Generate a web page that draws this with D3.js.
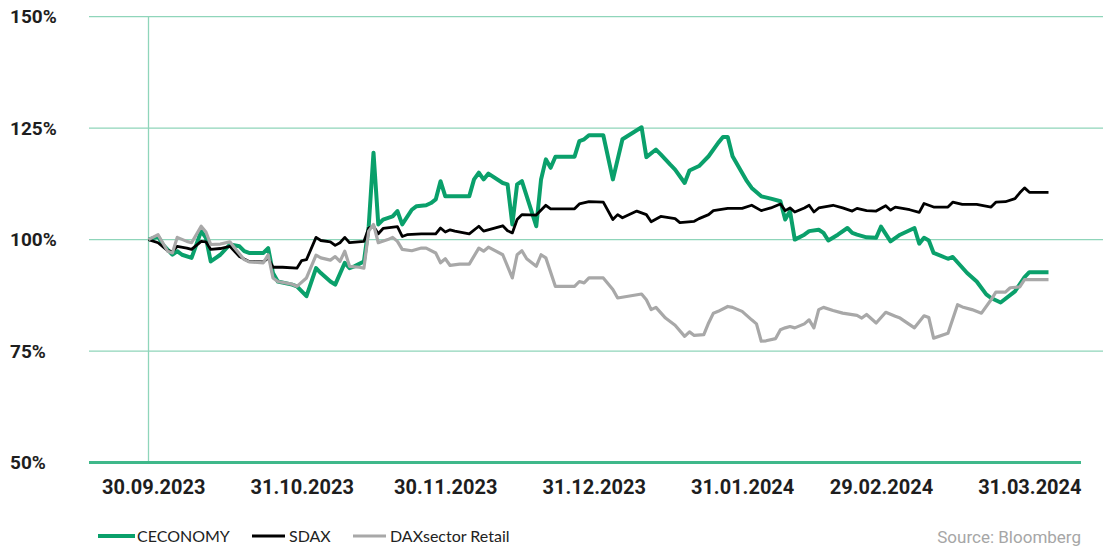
<!DOCTYPE html>
<html>
<head>
<meta charset="utf-8">
<script src="https://cdn.jsdelivr.net/npm/d3@7"></script>
<style>
  body { margin: 0; background: #fff; }
  svg { display: block; }
</style>
</head>
<body>
<svg id="chart" width="1105" height="547"></svg>
<script>
// data (index = 100 at 29.09.2023)

var seriesNames = ["CECONOMY", "SDAX", "DAXsector Retail"];
var tickDates = ["2023-09-30", "2023-10-31", "2023-11-30", "2023-12-31", "2024-01-31", "2024-02-29", "2024-03-31"];
var yTicks = [50, 75, 100, 125, 150];

var ceconomy = [
  ["2023-09-29",100.0],["2023-10-01",100.7],["2023-10-02",98.9],["2023-10-04",96.6],["2023-10-05",97.4],
  ["2023-10-06",96.6],["2023-10-08",95.9],["2023-10-10",101.9],["2023-10-11",100.4],["2023-10-12",95.1],
  ["2023-10-14",96.6],["2023-10-16",98.9],["2023-10-18",98.5],["2023-10-19",97.4],["2023-10-20",97.0],
  ["2023-10-23",97.0],["2023-10-24",98.1],["2023-10-25",92.5],["2023-10-26",90.6],["2023-10-29",89.9],
  ["2023-10-30",89.5],["2023-11-01",87.3],["2023-11-03",93.6],["2023-11-04",92.5],["2023-11-06",90.6],
  ["2023-11-07",89.9],["2023-11-09",94.8],["2023-11-10",93.6],["2023-11-11",94.0],["2023-11-13",95.1],
  ["2023-11-14",103.0],["2023-11-15",119.5],["2023-11-16",103.4],["2023-11-17",104.5],["2023-11-19",105.2],
  ["2023-11-20",106.4],["2023-11-21",103.4],["2023-11-23",106.7],["2023-11-24",107.5],["2023-11-26",107.7],
  ["2023-11-27",108.2],["2023-11-28",109.0],["2023-11-29",113.1],["2023-11-30",109.7],["2023-12-05",109.7],
  ["2023-12-06",113.5],["2023-12-07",115.0],["2023-12-08",113.5],["2023-12-09",114.8],["2023-12-12",112.7],
  ["2023-12-13",112.4],["2023-12-14",103.4],["2023-12-15",112.4],["2023-12-16",113.1],["2023-12-19",103.0],
  ["2023-12-20",113.5],["2023-12-21",118.0],["2023-12-22",116.1],["2023-12-23",118.6],["2023-12-27",118.6],
  ["2023-12-28",122.1],["2023-12-29",122.5],["2023-12-30",123.4],["2024-01-02",123.4],["2024-01-04",113.5],
  ["2024-01-06",122.5],["2024-01-10",125.2],["2024-01-11",118.5],["2024-01-13",120.2],["2024-01-14",119.1],
  ["2024-01-16",116.8],["2024-01-17",115.7],["2024-01-19",112.7],["2024-01-20",115.5],["2024-01-22",116.5],
  ["2024-01-24",118.7],["2024-01-26",121.7],["2024-01-27",123.0],["2024-01-28",123.0],["2024-01-29",118.7],
  ["2024-02-01",113.1],["2024-02-02",111.6],["2024-02-04",109.7],["2024-02-06",109.2],["2024-02-08",108.6],
  ["2024-02-09",104.5],["2024-02-10",106.4],["2024-02-11",100.0],["2024-02-13",101.1],["2024-02-14",101.9],
  ["2024-02-16",102.2],["2024-02-17",101.5],["2024-02-18",99.8],["2024-02-20",101.1],["2024-02-22",102.6],
  ["2024-02-23",101.5],["2024-02-24",101.1],["2024-02-26",100.5],["2024-02-28",100.4],["2024-02-29",102.9],
  ["2024-03-02",99.6],["2024-03-04",101.1],["2024-03-07",102.6],["2024-03-08",99.1],["2024-03-09",100.4],
  ["2024-03-10",99.8],["2024-03-11",97.0],["2024-03-14",95.7],["2024-03-15",96.1],["2024-03-18",92.5],
  ["2024-03-20",90.6],["2024-03-22",87.7],["2024-03-23",86.9],["2024-03-25",85.9],["2024-03-28",88.4],
  ["2024-03-30",91.6],["2024-03-31",92.7],["2024-04-04",92.7]
];

var sdax = [
  ["2023-09-29",100.0],["2023-10-01",99.3],["2023-10-03",97.5],["2023-10-04",97.3],["2023-10-05",98.5],
  ["2023-10-07",98.1],["2023-10-08",97.8],["2023-10-10",99.6],["2023-10-11",99.5],["2023-10-12",97.8],
  ["2023-10-14",98.0],["2023-10-16",98.5],["2023-10-18",96.2],["2023-10-20",95.1],["2023-10-23",95.0],
  ["2023-10-24",95.9],["2023-10-25",93.8],["2023-10-27",93.8],["2023-10-30",93.6],["2023-10-31",95.3],
  ["2023-11-01",95.5],["2023-11-03",100.5],["2023-11-04",99.8],["2023-11-06",99.5],["2023-11-07",98.7],
  ["2023-11-08",99.3],["2023-11-09",100.5],["2023-11-10",99.3],["2023-11-13",99.6],["2023-11-14",102.6],
  ["2023-11-15",103.0],["2023-11-16",101.3],["2023-11-17",102.5],["2023-11-20",102.9],["2023-11-21",100.7],
  ["2023-11-22",101.1],["2023-11-25",101.3],["2023-11-28",101.3],["2023-11-29",102.6],["2023-11-30",101.7],
  ["2023-12-01",102.2],["2023-12-02",101.9],["2023-12-05",101.3],["2023-12-07",103.0],["2023-12-08",101.9],
  ["2023-12-12",103.1],["2023-12-13",102.0],["2023-12-14",101.5],["2023-12-15",104.5],["2023-12-16",105.6],
  ["2023-12-19",105.5],["2023-12-21",107.7],["2023-12-22",106.9],["2023-12-27",106.9],["2023-12-28",108.0],
  ["2023-12-30",108.5],["2024-01-02",108.4],["2024-01-04",104.5],["2024-01-05",105.6],["2024-01-06",104.9],
  ["2024-01-09",106.4],["2024-01-11",105.6],["2024-01-12",104.0],["2024-01-14",105.2],["2024-01-17",104.7],
  ["2024-01-18",103.8],["2024-01-21",104.1],["2024-01-22",104.7],["2024-01-24",105.6],["2024-01-25",106.5],
  ["2024-01-28",107.0],["2024-01-31",107.0],["2024-02-02",107.7],["2024-02-04",106.5],["2024-02-06",107.1],
  ["2024-02-08",108.0],["2024-02-09",106.5],["2024-02-10",107.1],["2024-02-11",106.2],["2024-02-13",107.1],
  ["2024-02-14",107.7],["2024-02-15",106.2],["2024-02-16",107.1],["2024-02-19",107.7],["2024-02-21",107.1],
  ["2024-02-23",106.4],["2024-02-24",107.0],["2024-02-26",106.5],["2024-02-28",106.4],["2024-03-01",107.6],
  ["2024-03-02",106.6],["2024-03-03",107.3],["2024-03-06",106.7],["2024-03-08",106.1],["2024-03-09",108.1],
  ["2024-03-11",107.3],["2024-03-14",107.3],["2024-03-15",108.4],["2024-03-17",107.9],["2024-03-20",107.9],
  ["2024-03-23",107.3],["2024-03-24",108.4],["2024-03-26",108.5],["2024-03-28",109.2],["2024-03-29",110.5],
  ["2024-03-30",111.6],["2024-03-31",110.6],["2024-04-04",110.6]
];

var retail = [
  ["2023-09-29",100.0],["2023-10-01",101.1],["2023-10-03",97.4],["2023-10-04",97.0],["2023-10-05",100.5],
  ["2023-10-07",99.6],["2023-10-08",99.3],["2023-10-10",103.0],["2023-10-11",101.7],["2023-10-12",98.9],
  ["2023-10-14",99.0],["2023-10-16",99.5],["2023-10-17",98.1],["2023-10-19",95.5],["2023-10-20",95.0],
  ["2023-10-23",94.8],["2023-10-24",96.6],["2023-10-25",91.4],["2023-10-26",90.6],["2023-10-29",90.0],
  ["2023-10-30",89.5],["2023-11-01",91.4],["2023-11-03",96.5],["2023-11-04",95.9],["2023-11-06",95.4],
  ["2023-11-07",96.2],["2023-11-08",95.1],["2023-11-09",97.4],["2023-11-10",94.0],["2023-11-12",93.8],
  ["2023-11-13",93.6],["2023-11-14",101.9],["2023-11-15",103.4],["2023-11-16",99.3],["2023-11-18",100.0],
  ["2023-11-19",100.5],["2023-11-20",99.6],["2023-11-21",97.8],["2023-11-23",97.5],["2023-11-25",98.1],
  ["2023-11-26",98.1],["2023-11-28",97.0],["2023-11-29",94.8],["2023-11-30",95.7],["2023-12-01",94.2],
  ["2023-12-03",94.5],["2023-12-05",94.5],["2023-12-07",98.1],["2023-12-08",97.4],["2023-12-09",98.3],
  ["2023-12-12",96.6],["2023-12-14",91.4],["2023-12-15",96.6],["2023-12-16",97.5],["2023-12-17",95.7],
  ["2023-12-19",94.0],["2023-12-20",96.6],["2023-12-21",95.9],["2023-12-23",89.5],["2023-12-27",89.5],
  ["2023-12-28",90.6],["2023-12-29",90.3],["2023-12-30",91.4],["2024-01-02",91.4],["2024-01-04",88.8],
  ["2024-01-05",86.9],["2024-01-10",87.8],["2024-01-11",86.5],["2024-01-12",84.3],["2024-01-13",84.8],
  ["2024-01-15",82.4],["2024-01-17",80.8],["2024-01-19",78.3],["2024-01-20",79.3],["2024-01-21",78.5],
  ["2024-01-23",78.7],["2024-01-24",81.3],["2024-01-25",83.5],["2024-01-26",83.9],["2024-01-28",85.0],
  ["2024-01-29",84.8],["2024-01-31",83.9],["2024-02-02",82.0],["2024-02-03",81.1],["2024-02-04",77.2],
  ["2024-02-05",77.3],["2024-02-07",77.8],["2024-02-08",79.8],["2024-02-09",80.2],["2024-02-10",80.5],
  ["2024-02-11",80.2],["2024-02-13",81.1],["2024-02-14",82.0],["2024-02-15",80.2],["2024-02-16",84.3],
  ["2024-02-17",84.8],["2024-02-19",84.1],["2024-02-21",83.5],["2024-02-24",83.0],["2024-02-25",82.4],
  ["2024-02-26",83.2],["2024-02-28",81.3],["2024-03-01",83.7],["2024-03-03",82.8],["2024-03-04",82.4],
  ["2024-03-07",80.2],["2024-03-09",82.9],["2024-03-10",82.5],["2024-03-11",77.9],["2024-03-14",79.0],
  ["2024-03-16",85.4],["2024-03-17",84.9],["2024-03-19",84.3],["2024-03-21",83.5],["2024-03-23",86.5],
  ["2024-03-24",88.2],["2024-03-26",88.2],["2024-03-27",89.2],["2024-03-29",89.4],["2024-03-30",91.0],
  ["2024-04-04",91.0]
];

// layout
var plotLeft = 89, gridRight = 1103, baseRight = 1081;
var colors = ["#0aa06b", "#000000", "#a8a8a8"];
var widths = [4, 2.8, 3.2];
var gridColor = "#8fd5ba", baseColor = "#3fb88a";

var parseDate = d3.timeParse("%Y-%m-%d");
var svg = d3.select("#chart");

var x = d3.scaleTime()
          .domain([parseDate("2023-09-29"), parseDate("2024-04-04")])
          .range([148.5, 1048.5]);

var y = d3.scaleLinear()
          .domain([50, 150])
          .range([462.5, 16.7]);

// gridlines
svg.append("g")
   .selectAll("line")
   .data(yTicks.filter(d => d > 50))
   .enter()
   .append("line")
   .attr("x1", plotLeft)
   .attr("x2", gridRight)
   .attr("y1", d => y(d))
   .attr("y2", d => y(d))
   .attr("stroke", gridColor)
   .attr("stroke-width", 1.3);

// vertical line at start date
svg.append("line")
   .attr("x1", x(parseDate("2023-09-29")))
   .attr("x2", x(parseDate("2023-09-29")))
   .attr("y1", y(150))
   .attr("y2", y(50))
   .attr("stroke", gridColor)
   .attr("stroke-width", 1.3);

// baseline
svg.append("line")
   .attr("x1", plotLeft)
   .attr("x2", baseRight)
   .attr("y1", y(50))
   .attr("y2", y(50))
   .attr("stroke", baseColor)
   .attr("stroke-width", 3);

// y labels
const yAxis = d3.axisLeft(y)
                .tickValues(yTicks)
                .tickSize(0)
                .tickFormat(d => d + "%");

const gYAxis = svg.append("g")
                  .attr("transform", "translate(10,0)")
                  .call(yAxis);
gYAxis.select(".domain").remove();
gYAxis.selectAll("text")
      .attr("x", 0)
      .attr("text-anchor", "start")
      .attr("font-family", "Roboto, sans-serif")
      .attr("font-weight", "bold")
      .attr("font-size", "19px")
      .attr("fill", "#1e1e1e");

// x labels
const xAxis = d3.axisBottom(x)
                .tickValues(tickDates.map(parseDate))
                .tickSize(0)
                .tickPadding(0)
                .tickFormat(d3.timeFormat("%d.%m.%Y"));

const gXAxis = svg.append("g")
                  .attr("transform", "translate(0,480)")
                  .call(xAxis);
gXAxis.select(".domain").remove();
gXAxis.selectAll("text")
      .attr("dy", "0.71em")
      .attr("font-family", "Roboto, sans-serif")
      .attr("font-weight", "bold")
      .attr("font-size", "20px")
      .attr("fill", "#1e1e1e");

// lines
var allSeries = [ceconomy, sdax, retail];

var line = d3.line()
             .x(d => x(parseDate(d[0])))
             .y(d => y(d[1]));

svg.append("g")
   .selectAll("path")
   .data(allSeries)
   .enter()
   .append("path")
   .attr("d", d => line(d))
   .attr("fill", "none")
   .attr("stroke", (d, i) => colors[i])
   .attr("stroke-width", (d, i) => widths[i])
   .attr("stroke-linejoin", "round")
   .attr("stroke-linecap", "butt");

// legend
var legendX = [98, 252, 353];
var legend = svg.append("g")
                .selectAll("g")
                .data(seriesNames)
                .enter()
                .append("g")
                .attr("transform", (d, i) => `translate(${legendX[i]}, 536)`);

legend.append("line")
      .attr("x1", 0)
      .attr("x2", (d, i) => i == 0 ? 37 : 33)
      .attr("stroke", (d, i) => colors[i])
      .attr("stroke-width", (d, i) => widths[i]);

legend.append("text")
      .attr("x", (d, i) => i == 0 ? 39 : 37)
      .attr("y", 6)
      .attr("font-family", "Lato, sans-serif")
      .attr("font-size", "16px")
      .attr("fill", "#222")
      .text(d => d);

// source
svg.append("text")
   .attr("x", 1081)
   .attr("y", 543)
   .attr("text-anchor", "end")
   .attr("font-family", "Roboto, sans-serif")
   .attr("font-size", "17px")
   .attr("fill", "#a6a6a6")
   .text("Source: Bloomberg");
</script>
</body>
</html>
